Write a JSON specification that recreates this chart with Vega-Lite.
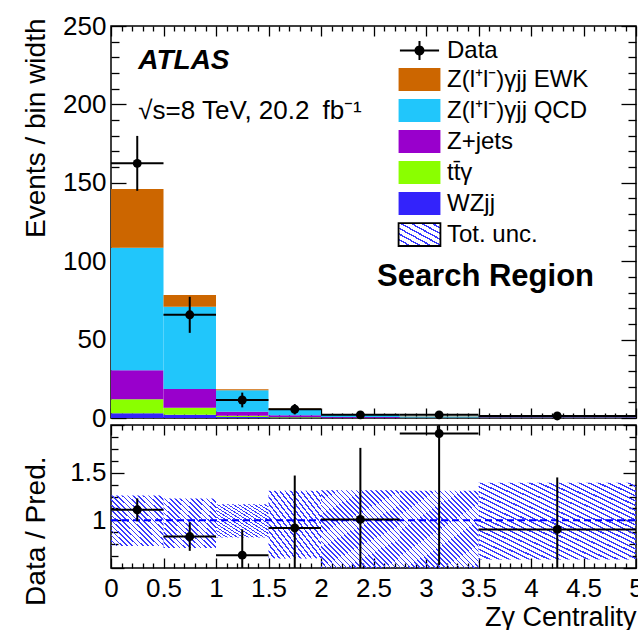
{
 "$schema": "https://vega.github.io/schema/vega-lite/v6.json",
 "padding": {"left": 21, "top": 12, "right": 0, "bottom": 0},
 "bounds": "flush",
 "spacing": 7,
 "config": {
  "font": "Liberation Sans",
  "view": {"stroke": "black", "strokeWidth": 1.5},
  "axis": {"grid": false, "domain": false, "tickColor": "black", "tickWidth": 1.3, "labelColor": "black", "labelFont": "Liberation Sans", "labelFontSize": 26, "titleFont": "Liberation Sans", "titleFontSize": 28, "titleFontWeight": "normal", "titleColor": "black", "labelOverlap": false, "labelFlush": false},
  "text": {"font": "Liberation Sans", "color": "black"}
 },
 "datasets": {
  "bins": [
   {"lo": 0, "hi": 0.5, "c": 0.25, "d": 162.4, "dlo": 144.9, "dhi": 179.9, "r": 1.11, "rlo": 0.99, "rhi": 1.23, "ulo": 0.73, "uhi": 1.26},
   {"lo": 0.5, "hi": 1, "c": 0.75, "d": 65.8, "dlo": 54.3, "dhi": 77.3, "r": 0.83, "rlo": 0.68, "rhi": 0.98, "ulo": 0.71, "uhi": 1.23},
   {"lo": 1, "hi": 1.5, "c": 1.25, "d": 11.5, "dlo": 6.8, "dhi": 16.2, "r": 0.635, "rlo": 0.37, "rhi": 0.905, "ulo": 0.82, "uhi": 1.17},
   {"lo": 1.5, "hi": 2, "c": 1.75, "d": 5.6, "dlo": 2.3, "dhi": 8.9, "r": 0.92, "rlo": 0.37, "rhi": 1.47, "ulo": 0.6, "uhi": 1.31},
   {"lo": 2, "hi": 2.75, "c": 2.375, "d": 2.0, "dlo": 0.4, "dhi": 3.6, "r": 1.01, "rlo": 0.26, "rhi": 1.76, "ulo": 0.45, "uhi": 1.315},
   {"lo": 2.75, "hi": 3.5, "c": 3.125, "d": 2.0, "dlo": 0.4, "dhi": 3.6, "r": 1.91, "rlo": 0.53, "rhi": 3.29, "ulo": 0.45, "uhi": 1.31},
   {"lo": 3.5, "hi": 5, "c": 4.25, "d": 1.3, "dlo": 0.4, "dhi": 2.2, "r": 0.905, "rlo": 0.36, "rhi": 1.45, "ulo": 0.59, "uhi": 1.395}
  ],
  "stack": [
   {"lo": 0, "hi": 0.5, "proc": "WZjj", "k": 1, "v": 3},
   {"lo": 0, "hi": 0.5, "proc": "tt\u0304\u03b3", "k": 2, "v": 9},
   {"lo": 0, "hi": 0.5, "proc": "Z+jets", "k": 3, "v": 18.5},
   {"lo": 0, "hi": 0.5, "proc": "Z(l\u207al\u207b)\u03b3jj QCD", "k": 4, "v": 78},
   {"lo": 0, "hi": 0.5, "proc": "Z(l\u207al\u207b)\u03b3jj EWK", "k": 5, "v": 37.5},
   {"lo": 0.5, "hi": 1, "proc": "WZjj", "k": 1, "v": 2},
   {"lo": 0.5, "hi": 1, "proc": "tt\u0304\u03b3", "k": 2, "v": 4.5},
   {"lo": 0.5, "hi": 1, "proc": "Z+jets", "k": 3, "v": 12},
   {"lo": 0.5, "hi": 1, "proc": "Z(l\u207al\u207b)\u03b3jj QCD", "k": 4, "v": 52.5},
   {"lo": 0.5, "hi": 1, "proc": "Z(l\u207al\u207b)\u03b3jj EWK", "k": 5, "v": 7.5},
   {"lo": 1, "hi": 1.5, "proc": "WZjj", "k": 1, "v": 0.6},
   {"lo": 1, "hi": 1.5, "proc": "tt\u0304\u03b3", "k": 2, "v": 0.9},
   {"lo": 1, "hi": 1.5, "proc": "Z+jets", "k": 3, "v": 2.5},
   {"lo": 1, "hi": 1.5, "proc": "Z(l\u207al\u207b)\u03b3jj QCD", "k": 4, "v": 13.7},
   {"lo": 1, "hi": 1.5, "proc": "Z(l\u207al\u207b)\u03b3jj EWK", "k": 5, "v": 0.7},
   {"lo": 1.5, "hi": 2, "proc": "WZjj", "k": 1, "v": 0.3},
   {"lo": 1.5, "hi": 2, "proc": "tt\u0304\u03b3", "k": 2, "v": 0.3},
   {"lo": 1.5, "hi": 2, "proc": "Z+jets", "k": 3, "v": 1.1},
   {"lo": 1.5, "hi": 2, "proc": "Z(l\u207al\u207b)\u03b3jj QCD", "k": 4, "v": 3.8},
   {"lo": 1.5, "hi": 2, "proc": "Z(l\u207al\u207b)\u03b3jj EWK", "k": 5, "v": 0.6},
   {"lo": 2, "hi": 2.75, "proc": "WZjj", "k": 1, "v": 0.1},
   {"lo": 2, "hi": 2.75, "proc": "tt\u0304\u03b3", "k": 2, "v": 0.1},
   {"lo": 2, "hi": 2.75, "proc": "Z+jets", "k": 3, "v": 0.4},
   {"lo": 2, "hi": 2.75, "proc": "Z(l\u207al\u207b)\u03b3jj QCD", "k": 4, "v": 1.3},
   {"lo": 2, "hi": 2.75, "proc": "Z(l\u207al\u207b)\u03b3jj EWK", "k": 5, "v": 0.1},
   {"lo": 2.75, "hi": 3.5, "proc": "WZjj", "k": 1, "v": 0.05},
   {"lo": 2.75, "hi": 3.5, "proc": "tt\u0304\u03b3", "k": 2, "v": 0.05},
   {"lo": 2.75, "hi": 3.5, "proc": "Z+jets", "k": 3, "v": 0.15},
   {"lo": 2.75, "hi": 3.5, "proc": "Z(l\u207al\u207b)\u03b3jj QCD", "k": 4, "v": 0.75},
   {"lo": 2.75, "hi": 3.5, "proc": "Z(l\u207al\u207b)\u03b3jj EWK", "k": 5, "v": 0.05},
   {"lo": 3.5, "hi": 5, "proc": "WZjj", "k": 1, "v": 0.05},
   {"lo": 3.5, "hi": 5, "proc": "tt\u0304\u03b3", "k": 2, "v": 0.05},
   {"lo": 3.5, "hi": 5, "proc": "Z+jets", "k": 3, "v": 0.35},
   {"lo": 3.5, "hi": 5, "proc": "Z(l\u207al\u207b)\u03b3jj QCD", "k": 4, "v": 0.9},
   {"lo": 3.5, "hi": 5, "proc": "Z(l\u207al\u207b)\u03b3jj EWK", "k": 5, "v": 0.1}
  ]
 },
 "vconcat": [
  {
   "width": 525,
   "height": 392,
   "resolve": {"axis": {"x": "independent", "y": "independent"}},
   "layer": [
    {
     "data": {"name": "stack"},
     "transform": [{"stack": "v", "groupby": ["lo"], "sort": [{"field": "k", "order": "ascending"}], "as": ["y0", "y1"]}],
     "mark": {"type": "rect", "strokeWidth": 0},
     "encoding": {
      "x": {"field": "lo", "type": "quantitative", "scale": {"domain": [0, 5], "nice": false, "zero": false},
            "axis": {"orient": "bottom", "values": [0,0.5,1,1.5,2,2.5,3,3.5,4,4.5,5], "labels": false, "tickSize": -10, "title": null}},
      "x2": {"field": "hi"},
      "y": {"field": "y0", "type": "quantitative", "scale": {"domain": [0, 250], "nice": false},
            "axis": {"orient": "left", "values": [0,50,100,150,200,250], "ticks": false, "labelPadding": 5, "format": "d",
                     "title": "Events / bin width", "titleAngle": -90, "titleAlign": "right", "titleBaseline": "alphabetic", "titleX": -67, "titleY": -8}},
      "y2": {"field": "y1"},
      "color": {"field": "proc", "type": "nominal",
                "scale": {"domain": ["Data", "Z(l\u207al\u207b)\u03b3jj EWK", "Z(l\u207al\u207b)\u03b3jj QCD", "Z+jets", "tt\u0304\u03b3", "WZjj", "Tot. unc."],
                          "range": ["#000000", "#cc6600", "#21c6fb", "#9900cc", "#8aff00", "#3323fb",
                                    {"expr": "{gradient: 'linear', x1: 0, y1: 1, x2: 1, y2: 0, stops: [{offset: 0, color: 'transparent'}, {offset: 0, color: '#3a3aff'}, {offset: 0.035, color: '#3a3aff'}, {offset: 0.035, color: 'transparent'}, {offset: 0.125, color: 'transparent'}, {offset: 0.125, color: '#3a3aff'}, {offset: 0.16, color: '#3a3aff'}, {offset: 0.16, color: 'transparent'}, {offset: 0.25, color: 'transparent'}, {offset: 0.25, color: '#3a3aff'}, {offset: 0.285, color: '#3a3aff'}, {offset: 0.285, color: 'transparent'}, {offset: 0.375, color: 'transparent'}, {offset: 0.375, color: '#3a3aff'}, {offset: 0.41, color: '#3a3aff'}, {offset: 0.41, color: 'transparent'}, {offset: 0.5, color: 'transparent'}, {offset: 0.5, color: '#3a3aff'}, {offset: 0.535, color: '#3a3aff'}, {offset: 0.535, color: 'transparent'}, {offset: 0.625, color: 'transparent'}, {offset: 0.625, color: '#3a3aff'}, {offset: 0.66, color: '#3a3aff'}, {offset: 0.66, color: 'transparent'}, {offset: 0.75, color: 'transparent'}, {offset: 0.75, color: '#3a3aff'}, {offset: 0.785, color: '#3a3aff'}, {offset: 0.785, color: 'transparent'}, {offset: 0.875, color: 'transparent'}, {offset: 0.875, color: '#3a3aff'}, {offset: 0.91, color: '#3a3aff'}, {offset: 0.91, color: 'transparent'}, {offset: 1, color: 'transparent'}]}"}]},
                "legend": {"orient": "none", "legendX": 294, "legendY": 10, "title": null, "padding": 0, "symbolSize": 729, "rowPadding": 0, "labelOffset": 13,
                           "labelFontSize": 24, "labelFont": "Liberation Sans", "labelColor": "black", "labelLimit": 400, "symbolStrokeWidth": 1.8, "symbolOpacity": 1}},
      "stroke": {"field": "proc", "type": "nominal",
                 "scale": {"domain": ["Data", "Z(l\u207al\u207b)\u03b3jj EWK", "Z(l\u207al\u207b)\u03b3jj QCD", "Z+jets", "tt\u0304\u03b3", "WZjj", "Tot. unc."],
                           "range": ["transparent", "transparent", "transparent", "transparent", "transparent", "transparent", "black"]},
                 "legend": {"orient": "none", "legendX": 294, "legendY": 10, "title": null, "padding": 0, "symbolSize": 729, "rowPadding": 0, "labelOffset": 13,
                            "labelFontSize": 24, "labelFont": "Liberation Sans", "labelColor": "black", "labelLimit": 400, "symbolStrokeWidth": 1.8, "symbolOpacity": 1}}
     }
    },
    {
     "data": {"name": "stack"},
     "mark": {"type": "point", "filled": true, "opacity": 0},
     "encoding": {
      "x": {"field": "lo", "type": "quantitative", "scale": {"domain": [0, 5], "nice": false, "zero": false}, "axis": null},
      "y": {"field": "v", "type": "quantitative", "scale": {"domain": [0, 250], "nice": false}, "axis": null},
      "shape": {"field": "proc", "type": "nominal",
                "scale": {"domain": ["Data", "Z(l\u207al\u207b)\u03b3jj EWK", "Z(l\u207al\u207b)\u03b3jj QCD", "Z+jets", "tt\u0304\u03b3", "WZjj", "Tot. unc."],
                          "range": ["M-1.45,-0.075H1.45V0.075H-1.45Z M-0.075,-0.7H0.075V0.7H-0.075Z M0.37,0A0.37,0.37 0 1,1 -0.37,0A0.37,0.37 0 1,1 0.37,0Z",
                                    "M-1.55,-0.85H1.55V0.85H-1.55Z", "M-1.55,-0.85H1.55V0.85H-1.55Z", "M-1.55,-0.85H1.55V0.85H-1.55Z",
                                    "M-1.55,-0.85H1.55V0.85H-1.55Z", "M-1.55,-0.85H1.55V0.85H-1.55Z", "M-1.55,-0.85H1.55V0.85H-1.55Z"]},
                "legend": {"orient": "none", "legendX": 294, "legendY": 10, "title": null, "padding": 0, "symbolSize": 729, "rowPadding": 0, "labelOffset": 13,
                           "labelFontSize": 24, "labelFont": "Liberation Sans", "labelColor": "black", "labelLimit": 400, "symbolStrokeWidth": 1.8, "symbolOpacity": 1}}
     }
    },
    {
     "data": {"name": "bins"},
     "mark": {"type": "rule", "strokeWidth": 2, "color": "black"},
     "encoding": {
      "x": {"field": "c", "type": "quantitative", "scale": {"domain": [0, 5], "nice": false, "zero": false},
            "axis": {"orient": "bottom", "values": [0.1,0.2,0.3,0.4,0.6,0.7,0.8,0.9,1.1,1.2,1.3,1.4,1.6,1.7,1.8,1.9,2.1,2.2,2.3,2.4,2.6,2.7,2.8,2.9,3.1,3.2,3.3,3.4,3.6,3.7,3.8,3.9,4.1,4.2,4.3,4.4,4.6,4.7,4.8,4.9], "labels": false, "tickSize": -5, "title": null}},
      "y": {"field": "dlo", "type": "quantitative", "scale": {"domain": [0, 250], "nice": false},
            "axis": {"orient": "left", "values": [0,50,100,150,200,250], "labels": false, "tickSize": -15, "title": null}},
      "y2": {"field": "dhi"}
     }
    },
    {
     "data": {"name": "bins"},
     "mark": {"type": "rule", "strokeWidth": 2, "color": "black"},
     "encoding": {
      "x": {"field": "lo", "type": "quantitative", "scale": {"domain": [0, 5], "nice": false, "zero": false},
            "axis": {"orient": "top", "values": [0,0.5,1,1.5,2,2.5,3,3.5,4,4.5,5], "labels": false, "tickSize": -10, "title": null}},
      "x2": {"field": "hi"},
      "y": {"field": "d", "type": "quantitative", "scale": {"domain": [0, 250], "nice": false},
            "axis": {"orient": "left", "values": [10,20,30,40,60,70,80,90,110,120,130,140,160,170,180,190,210,220,230,240], "labels": false, "tickSize": -8, "title": null}}
     }
    },
    {
     "data": {"name": "bins"},
     "mark": {"type": "circle", "size": 80, "color": "black", "opacity": 1},
     "encoding": {
      "x": {"field": "c", "type": "quantitative", "scale": {"domain": [0, 5], "nice": false, "zero": false},
            "axis": {"orient": "top", "values": [0.1,0.2,0.3,0.4,0.6,0.7,0.8,0.9,1.1,1.2,1.3,1.4,1.6,1.7,1.8,1.9,2.1,2.2,2.3,2.4,2.6,2.7,2.8,2.9,3.1,3.2,3.3,3.4,3.6,3.7,3.8,3.9,4.1,4.2,4.3,4.4,4.6,4.7,4.8,4.9], "labels": false, "tickSize": -5, "title": null}},
      "y": {"field": "d", "type": "quantitative", "scale": {"domain": [0, 250], "nice": false},
            "axis": {"orient": "right", "values": [0,50,100,150,200,250], "labels": false, "tickSize": -15, "title": null}}
     }
    },
    {
     "data": {"values": [{}]},
     "mark": {"type": "text", "text": "ATLAS", "fontSize": 28, "fontWeight": "bold", "fontStyle": "italic", "align": "left", "baseline": "alphabetic"},
     "encoding": {
      "x": {"datum": 0.26, "type": "quantitative", "scale": {"domain": [0, 5], "nice": false, "zero": false}, "axis": null},
      "y": {"datum": 222.6, "type": "quantitative", "scale": {"domain": [0, 250], "nice": false},
            "axis": {"orient": "right", "values": [10,20,30,40,60,70,80,90,110,120,130,140,160,170,180,190,210,220,230,240], "labels": false, "tickSize": -8, "title": null}}
     }
    },
    {
     "data": {"values": [{}]},
     "mark": {"type": "text", "text": "\u221as=8 TeV, 20.2\u2002fb\u207b\u00b9", "fontSize": 26, "align": "left", "baseline": "alphabetic"},
     "encoding": {
      "x": {"datum": 0.26, "type": "quantitative", "scale": {"domain": [0, 5], "nice": false, "zero": false}, "axis": null},
      "y": {"datum": 190.7, "type": "quantitative", "scale": {"domain": [0, 250], "nice": false}, "axis": null}
     }
    },
    {
     "data": {"values": [{}]},
     "mark": {"type": "text", "text": "Search Region", "fontSize": 31, "fontWeight": "bold", "align": "left", "baseline": "alphabetic"},
     "encoding": {
      "x": {"datum": 2.533, "type": "quantitative", "scale": {"domain": [0, 5], "nice": false, "zero": false}, "axis": null},
      "y": {"datum": 84.2, "type": "quantitative", "scale": {"domain": [0, 250], "nice": false}, "axis": null}
     }
    }
   ]
  },
  {
   "width": 525,
   "height": 143,
   "resolve": {"axis": {"x": "independent", "y": "independent"}},
   "layer": [
    {
     "data": {"name": "bins"},
     "transform": [{"filter": "datum.lo < 2"}],
     "mark": {"type": "rect", "clip": true, "strokeWidth": 0,
              "fill": {"gradient": "linear", "x1": 0, "y1": 1, "x2": 1, "y2": 0, "stops": [
               {"offset": 0, "color": "transparent"}, {"offset": 0, "color": "#3a3aff"}, {"offset": 0.016, "color": "#3a3aff"}, {"offset": 0.016, "color": "transparent"},
               {"offset": 0.05, "color": "transparent"}, {"offset": 0.05, "color": "#3a3aff"}, {"offset": 0.066, "color": "#3a3aff"}, {"offset": 0.066, "color": "transparent"},
               {"offset": 0.1, "color": "transparent"}, {"offset": 0.1, "color": "#3a3aff"}, {"offset": 0.116, "color": "#3a3aff"}, {"offset": 0.116, "color": "transparent"},
               {"offset": 0.15, "color": "transparent"}, {"offset": 0.15, "color": "#3a3aff"}, {"offset": 0.166, "color": "#3a3aff"}, {"offset": 0.166, "color": "transparent"},
               {"offset": 0.2, "color": "transparent"}, {"offset": 0.2, "color": "#3a3aff"}, {"offset": 0.216, "color": "#3a3aff"}, {"offset": 0.216, "color": "transparent"},
               {"offset": 0.25, "color": "transparent"}, {"offset": 0.25, "color": "#3a3aff"}, {"offset": 0.266, "color": "#3a3aff"}, {"offset": 0.266, "color": "transparent"},
               {"offset": 0.3, "color": "transparent"}, {"offset": 0.3, "color": "#3a3aff"}, {"offset": 0.316, "color": "#3a3aff"}, {"offset": 0.316, "color": "transparent"},
               {"offset": 0.35, "color": "transparent"}, {"offset": 0.35, "color": "#3a3aff"}, {"offset": 0.366, "color": "#3a3aff"}, {"offset": 0.366, "color": "transparent"},
               {"offset": 0.4, "color": "transparent"}, {"offset": 0.4, "color": "#3a3aff"}, {"offset": 0.416, "color": "#3a3aff"}, {"offset": 0.416, "color": "transparent"},
               {"offset": 0.45, "color": "transparent"}, {"offset": 0.45, "color": "#3a3aff"}, {"offset": 0.466, "color": "#3a3aff"}, {"offset": 0.466, "color": "transparent"},
               {"offset": 0.5, "color": "transparent"}, {"offset": 0.5, "color": "#3a3aff"}, {"offset": 0.516, "color": "#3a3aff"}, {"offset": 0.516, "color": "transparent"},
               {"offset": 0.55, "color": "transparent"}, {"offset": 0.55, "color": "#3a3aff"}, {"offset": 0.566, "color": "#3a3aff"}, {"offset": 0.566, "color": "transparent"},
               {"offset": 0.6, "color": "transparent"}, {"offset": 0.6, "color": "#3a3aff"}, {"offset": 0.616, "color": "#3a3aff"}, {"offset": 0.616, "color": "transparent"},
               {"offset": 0.65, "color": "transparent"}, {"offset": 0.65, "color": "#3a3aff"}, {"offset": 0.666, "color": "#3a3aff"}, {"offset": 0.666, "color": "transparent"},
               {"offset": 0.7, "color": "transparent"}, {"offset": 0.7, "color": "#3a3aff"}, {"offset": 0.716, "color": "#3a3aff"}, {"offset": 0.716, "color": "transparent"},
               {"offset": 0.75, "color": "transparent"}, {"offset": 0.75, "color": "#3a3aff"}, {"offset": 0.766, "color": "#3a3aff"}, {"offset": 0.766, "color": "transparent"},
               {"offset": 0.8, "color": "transparent"}, {"offset": 0.8, "color": "#3a3aff"}, {"offset": 0.816, "color": "#3a3aff"}, {"offset": 0.816, "color": "transparent"},
               {"offset": 0.85, "color": "transparent"}, {"offset": 0.85, "color": "#3a3aff"}, {"offset": 0.866, "color": "#3a3aff"}, {"offset": 0.866, "color": "transparent"},
               {"offset": 0.9, "color": "transparent"}, {"offset": 0.9, "color": "#3a3aff"}, {"offset": 0.916, "color": "#3a3aff"}, {"offset": 0.916, "color": "transparent"},
               {"offset": 0.95, "color": "transparent"}, {"offset": 0.95, "color": "#3a3aff"}, {"offset": 0.966, "color": "#3a3aff"}, {"offset": 0.966, "color": "transparent"},
               {"offset": 1, "color": "transparent"}]}},
     "encoding": {
      "x": {"field": "lo", "type": "quantitative", "scale": {"domain": [0, 5], "nice": false, "zero": false},
            "axis": {"orient": "bottom", "values": [0,0.5,1,1.5,2,2.5,3,3.5,4,4.5,5], "ticks": false, "labelPadding": 7, "format": ".2~f",
                     "title": "Z\u03b3 Centrality", "titleFontSize": 27, "titleAlign": "right", "titleBaseline": "alphabetic", "titleX": 525, "titleY": 57}},
      "x2": {"field": "hi"},
      "y": {"field": "ulo", "type": "quantitative", "scale": {"domain": [0.5, 2], "nice": false, "zero": false},
            "axis": {"orient": "left", "values": [1, 1.5], "ticks": false, "labelPadding": 5, "format": ".2~f",
                     "title": "Data / Pred.", "titleAngle": -90, "titleAlign": "right", "titleBaseline": "alphabetic", "titleX": -67, "titleY": 31}},
      "y2": {"field": "uhi"}
     }
    },
    {
     "data": {"name": "bins"},
     "transform": [{"filter": "datum.lo >= 2"}],
     "mark": {"type": "rect", "clip": true, "strokeWidth": 0,
              "fill": {"gradient": "linear", "x1": 0, "y1": 1, "x2": 1, "y2": 0, "stops": [
               {"offset": 0, "color": "transparent"}, {"offset": 0, "color": "#3a3aff"}, {"offset": 0.01, "color": "#3a3aff"}, {"offset": 0.01, "color": "transparent"},
               {"offset": 0.03125, "color": "transparent"}, {"offset": 0.03125, "color": "#3a3aff"}, {"offset": 0.04125, "color": "#3a3aff"}, {"offset": 0.04125, "color": "transparent"},
               {"offset": 0.0625, "color": "transparent"}, {"offset": 0.0625, "color": "#3a3aff"}, {"offset": 0.0725, "color": "#3a3aff"}, {"offset": 0.0725, "color": "transparent"},
               {"offset": 0.09375, "color": "transparent"}, {"offset": 0.09375, "color": "#3a3aff"}, {"offset": 0.10375, "color": "#3a3aff"}, {"offset": 0.10375, "color": "transparent"},
               {"offset": 0.125, "color": "transparent"}, {"offset": 0.125, "color": "#3a3aff"}, {"offset": 0.135, "color": "#3a3aff"}, {"offset": 0.135, "color": "transparent"},
               {"offset": 0.15625, "color": "transparent"}, {"offset": 0.15625, "color": "#3a3aff"}, {"offset": 0.16625, "color": "#3a3aff"}, {"offset": 0.16625, "color": "transparent"},
               {"offset": 0.1875, "color": "transparent"}, {"offset": 0.1875, "color": "#3a3aff"}, {"offset": 0.1975, "color": "#3a3aff"}, {"offset": 0.1975, "color": "transparent"},
               {"offset": 0.21875, "color": "transparent"}, {"offset": 0.21875, "color": "#3a3aff"}, {"offset": 0.22875, "color": "#3a3aff"}, {"offset": 0.22875, "color": "transparent"},
               {"offset": 0.25, "color": "transparent"}, {"offset": 0.25, "color": "#3a3aff"}, {"offset": 0.26, "color": "#3a3aff"}, {"offset": 0.26, "color": "transparent"},
               {"offset": 0.28125, "color": "transparent"}, {"offset": 0.28125, "color": "#3a3aff"}, {"offset": 0.29125, "color": "#3a3aff"}, {"offset": 0.29125, "color": "transparent"},
               {"offset": 0.3125, "color": "transparent"}, {"offset": 0.3125, "color": "#3a3aff"}, {"offset": 0.3225, "color": "#3a3aff"}, {"offset": 0.3225, "color": "transparent"},
               {"offset": 0.34375, "color": "transparent"}, {"offset": 0.34375, "color": "#3a3aff"}, {"offset": 0.35375, "color": "#3a3aff"}, {"offset": 0.35375, "color": "transparent"},
               {"offset": 0.375, "color": "transparent"}, {"offset": 0.375, "color": "#3a3aff"}, {"offset": 0.385, "color": "#3a3aff"}, {"offset": 0.385, "color": "transparent"},
               {"offset": 0.40625, "color": "transparent"}, {"offset": 0.40625, "color": "#3a3aff"}, {"offset": 0.41625, "color": "#3a3aff"}, {"offset": 0.41625, "color": "transparent"},
               {"offset": 0.4375, "color": "transparent"}, {"offset": 0.4375, "color": "#3a3aff"}, {"offset": 0.4475, "color": "#3a3aff"}, {"offset": 0.4475, "color": "transparent"},
               {"offset": 0.46875, "color": "transparent"}, {"offset": 0.46875, "color": "#3a3aff"}, {"offset": 0.47875, "color": "#3a3aff"}, {"offset": 0.47875, "color": "transparent"},
               {"offset": 0.5, "color": "transparent"}, {"offset": 0.5, "color": "#3a3aff"}, {"offset": 0.51, "color": "#3a3aff"}, {"offset": 0.51, "color": "transparent"},
               {"offset": 0.53125, "color": "transparent"}, {"offset": 0.53125, "color": "#3a3aff"}, {"offset": 0.54125, "color": "#3a3aff"}, {"offset": 0.54125, "color": "transparent"},
               {"offset": 0.5625, "color": "transparent"}, {"offset": 0.5625, "color": "#3a3aff"}, {"offset": 0.5725, "color": "#3a3aff"}, {"offset": 0.5725, "color": "transparent"},
               {"offset": 0.59375, "color": "transparent"}, {"offset": 0.59375, "color": "#3a3aff"}, {"offset": 0.60375, "color": "#3a3aff"}, {"offset": 0.60375, "color": "transparent"},
               {"offset": 0.625, "color": "transparent"}, {"offset": 0.625, "color": "#3a3aff"}, {"offset": 0.635, "color": "#3a3aff"}, {"offset": 0.635, "color": "transparent"},
               {"offset": 0.65625, "color": "transparent"}, {"offset": 0.65625, "color": "#3a3aff"}, {"offset": 0.66625, "color": "#3a3aff"}, {"offset": 0.66625, "color": "transparent"},
               {"offset": 0.6875, "color": "transparent"}, {"offset": 0.6875, "color": "#3a3aff"}, {"offset": 0.6975, "color": "#3a3aff"}, {"offset": 0.6975, "color": "transparent"},
               {"offset": 0.71875, "color": "transparent"}, {"offset": 0.71875, "color": "#3a3aff"}, {"offset": 0.72875, "color": "#3a3aff"}, {"offset": 0.72875, "color": "transparent"},
               {"offset": 0.75, "color": "transparent"}, {"offset": 0.75, "color": "#3a3aff"}, {"offset": 0.76, "color": "#3a3aff"}, {"offset": 0.76, "color": "transparent"},
               {"offset": 0.78125, "color": "transparent"}, {"offset": 0.78125, "color": "#3a3aff"}, {"offset": 0.79125, "color": "#3a3aff"}, {"offset": 0.79125, "color": "transparent"},
               {"offset": 0.8125, "color": "transparent"}, {"offset": 0.8125, "color": "#3a3aff"}, {"offset": 0.8225, "color": "#3a3aff"}, {"offset": 0.8225, "color": "transparent"},
               {"offset": 0.84375, "color": "transparent"}, {"offset": 0.84375, "color": "#3a3aff"}, {"offset": 0.85375, "color": "#3a3aff"}, {"offset": 0.85375, "color": "transparent"},
               {"offset": 0.875, "color": "transparent"}, {"offset": 0.875, "color": "#3a3aff"}, {"offset": 0.885, "color": "#3a3aff"}, {"offset": 0.885, "color": "transparent"},
               {"offset": 0.90625, "color": "transparent"}, {"offset": 0.90625, "color": "#3a3aff"}, {"offset": 0.91625, "color": "#3a3aff"}, {"offset": 0.91625, "color": "transparent"},
               {"offset": 0.9375, "color": "transparent"}, {"offset": 0.9375, "color": "#3a3aff"}, {"offset": 0.9475, "color": "#3a3aff"}, {"offset": 0.9475, "color": "transparent"},
               {"offset": 0.96875, "color": "transparent"}, {"offset": 0.96875, "color": "#3a3aff"}, {"offset": 0.97875, "color": "#3a3aff"}, {"offset": 0.97875, "color": "transparent"},
               {"offset": 1, "color": "transparent"}]}},
     "encoding": {
      "x": {"field": "lo", "type": "quantitative", "scale": {"domain": [0, 5], "nice": false, "zero": false}, "axis": null},
      "x2": {"field": "hi"},
      "y": {"field": "ulo", "type": "quantitative", "scale": {"domain": [0.5, 2], "nice": false, "zero": false}, "axis": null},
      "y2": {"field": "uhi"}
     }
    },
    {
     "data": {"values": [{}]},
     "mark": {"type": "rule", "color": "#0000ff", "strokeWidth": 2, "strokeDash": [7, 4]},
     "encoding": {
      "x": {"datum": 0, "type": "quantitative", "scale": {"domain": [0, 5], "nice": false, "zero": false},
            "axis": {"orient": "bottom", "values": [0,0.5,1,1.5,2,2.5,3,3.5,4,4.5,5], "labels": false, "tickSize": -10, "title": null}},
      "x2": {"datum": 5},
      "y": {"datum": 1, "type": "quantitative", "scale": {"domain": [0.5, 2], "nice": false, "zero": false},
            "axis": {"orient": "left", "values": [0.5, 1, 1.5, 2], "labels": false, "tickSize": -13, "title": null}}
     }
    },
    {
     "data": {"name": "bins"},
     "mark": {"type": "rule", "strokeWidth": 2, "color": "black", "clip": true},
     "encoding": {
      "x": {"field": "c", "type": "quantitative", "scale": {"domain": [0, 5], "nice": false, "zero": false},
            "axis": {"orient": "bottom", "values": [0.1,0.2,0.3,0.4,0.6,0.7,0.8,0.9,1.1,1.2,1.3,1.4,1.6,1.7,1.8,1.9,2.1,2.2,2.3,2.4,2.6,2.7,2.8,2.9,3.1,3.2,3.3,3.4,3.6,3.7,3.8,3.9,4.1,4.2,4.3,4.4,4.6,4.7,4.8,4.9], "labels": false, "tickSize": -5, "title": null}},
      "y": {"field": "rlo", "type": "quantitative", "scale": {"domain": [0.5, 2], "nice": false, "zero": false},
            "axis": {"orient": "left", "values": [0.625, 0.75, 0.875, 1.125, 1.25, 1.375, 1.625, 1.75, 1.875], "labels": false, "tickSize": -7, "title": null}},
      "y2": {"field": "rhi"}
     }
    },
    {
     "data": {"name": "bins"},
     "mark": {"type": "rule", "strokeWidth": 2, "color": "black", "clip": true},
     "encoding": {
      "x": {"field": "lo", "type": "quantitative", "scale": {"domain": [0, 5], "nice": false, "zero": false},
            "axis": {"orient": "top", "values": [0,0.5,1,1.5,2,2.5,3,3.5,4,4.5,5], "labels": false, "tickSize": -10, "title": null}},
      "x2": {"field": "hi"},
      "y": {"field": "r", "type": "quantitative", "scale": {"domain": [0.5, 2], "nice": false, "zero": false},
            "axis": {"orient": "right", "values": [0.5, 1, 1.5, 2], "labels": false, "tickSize": -13, "title": null}}
     }
    },
    {
     "data": {"name": "bins"},
     "mark": {"type": "circle", "size": 80, "color": "black", "opacity": 1, "clip": true},
     "encoding": {
      "x": {"field": "c", "type": "quantitative", "scale": {"domain": [0, 5], "nice": false, "zero": false},
            "axis": {"orient": "top", "values": [0.1,0.2,0.3,0.4,0.6,0.7,0.8,0.9,1.1,1.2,1.3,1.4,1.6,1.7,1.8,1.9,2.1,2.2,2.3,2.4,2.6,2.7,2.8,2.9,3.1,3.2,3.3,3.4,3.6,3.7,3.8,3.9,4.1,4.2,4.3,4.4,4.6,4.7,4.8,4.9], "labels": false, "tickSize": -5, "title": null}},
      "y": {"field": "r", "type": "quantitative", "scale": {"domain": [0.5, 2], "nice": false, "zero": false},
            "axis": {"orient": "right", "values": [0.625, 0.75, 0.875, 1.125, 1.25, 1.375, 1.625, 1.75, 1.875], "labels": false, "tickSize": -7, "title": null}}
     }
    }
   ]
  }
 ]
}
